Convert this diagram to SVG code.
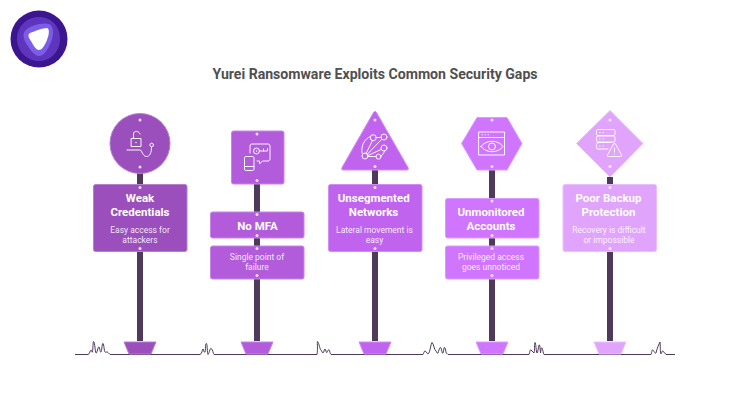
<svg xmlns="http://www.w3.org/2000/svg" width="740" height="420" viewBox="0 0 740 420">
<style>
text{font-family:Roboto,"Liberation Sans",sans-serif;text-anchor:middle}
.title{font-size:14.1px;font-weight:700;fill:#505050}
.h{font-size:11.5px;font-weight:700;fill:#ffffff}
.d{font-size:8.5px;fill:#ffffff;fill-opacity:.88}
.pole{fill:#4f3a5c}
.ground{fill:none;stroke:#4f3a5c;stroke-width:1}
.dot{fill:#ffffff;fill-opacity:.8}
.ic{fill:none;stroke:#ffffff;stroke-opacity:.95;stroke-width:1;stroke-linecap:round;stroke-linejoin:round}
.s{stroke-width:1;stroke-linejoin:round}
.c1{fill:#9b4fbd;stroke:#b67fd0}
.c2{fill:#b25cdc;stroke:#c786e6}
.c3{fill:#c064ef;stroke:#d18df4}
.c4{fill:#d075ff;stroke:#dd99ff}
.c5{fill:#e0a4fd;stroke:#e9c0fe}
</style>
<g id="logo">
<circle cx="39" cy="39" r="28.500" fill="#3c1690"/>
<path d="M39 17C51 17 60 26 60 39C60 51 51 61 39 61C27 61 17 51 17 39C17 26 27 17 39 17Z" fill="#5f35bd"/>
<path d="M25 31C29 26 42 22 49 24C54 26 54 35 51 42C48 49 44 56 39 56C34 56 29 48 26 43C24 39 22 35 25 31Z" fill="#7a5ee8"/>
<path d="M30 33C35 31 43 28 47 28C50 29 49 35 47 40C45 45 42 50 39 50C36 50 33 45 31 41C29 38 27 35 30 33Z" fill="#ffffff"/>
</g>
<text class="title" x="375" y="79">Yurei Ransomware Exploits Common Security Gaps</text>
<g id="connectors">
<path class="ground" d="M75 354.500H88C90 354 90 350 91 350C92 350 92 353 92.500 352C93 348 93 342 93.500 341.500C95 342 95 352 96 353C97 354 98 346 99 347C100 348 100 353 101 352C102 350 102 343 103 343.500C104 344 104 351 105 352C106 353 107 351 108 352.500L110 354.500H200C202 354 202 350 203 349C204 351 204 353 205 352C206 349 205 343 206.500 343.500C207.500 345 207 353 208 354.500C209 354 210 348 211 348.500C213 349 213 354 214 354.500H317C318 350 317 343 317.500 341.500C319 343 320 350 321 350C322 351 322 353 323 353C324 353 324 349 325 349C326 350 326 353 327 352.500C328 351 328 349 329 350C330 351 330 354 331 354.500H423C424 353 424 351 425 351C427 352 427 354 428 354C430 353 431 343 432 342.500C434 344 434 350 436 351C437 352 437 354 438 353C439 350 440 346 441 348C442 351 442 354 443 353C444 349 444 346 445 348C446 351 446 354 447 353.500L448 354.500H529C530 352 530 349 531 350C532 351 533 352 534 353C535 350 534 344 535 342.500C536 343 536 352 537 353C538 352 538 349 539 345C540 344 540 349 540.500 353C541 350 541 347 542 348C543 350 543 353 544 354.500H651C652 352 652 349 653 350C654 351 655 354 656 353C657 348 659 344 660 342C660.500 345 660 353 661 354C662 353 662 350 663 351C664 352 664 353 665 353L666 354.500H675"/>
<path class="pole" d="M137 172h6v13h-6zM137 252h6v89h-6zM254 184h6v28h-6zM254 238h6v8h-6zM254 279h6v62h-6zM372 170h6v15h-6zM372 252h6v89h-6zM489 170h6v28h-6zM489 238h6v8h-6zM489 279h6v62h-6zM607 177h6v8h-6zM607 252h6v89h-6z"/>
</g>
<g id="node1">
<circle class="c1 s" cx="140" cy="143.500" r="30"/>
<path class="c1 s" d="M124 342h32l-5 12h-22z"/>
<rect class="c1 s" x="93.500" y="184.500" width="93.500" height="67" rx="2"/>
<circle class="dot" cx="140" cy="120" r="1.500"/><circle class="dot" cx="140" cy="167" r="1.500"/><circle class="dot" cx="140" cy="187.500" r="1.500"/><circle class="dot" cx="140" cy="248.500" r="1.500"/>
<path class="ic" d="M131.500 138.500h9.500v8h-9.500zM133.500 138.500v-4.500c0-3.500 5.500-3.500 6.500 0M127 150h13c2 0 2.500 6.500 6.500 6.500c3.500 0 5-4 5-9"/><circle class="ic" cx="151.700" cy="145" r="1.800"/><circle cx="136" cy="142.500" r=".7" fill="#fff"/>
<text class="h" x="140" y="202">Weak</text><text class="h" x="140" y="215.500">Credentials</text>
<text class="d" x="140" y="233">Easy access for</text><text class="d" x="140" y="243">attackers</text>
</g>
<g id="node2">
<rect class="c2 s" x="231.500" y="131" width="52.500" height="53" rx="2"/>
<path class="c2 s" d="M241 342h32l-5 12h-22z"/>
<rect class="c2 s" x="210.500" y="212" width="93.500" height="26" rx="2"/>
<rect class="c2 s" x="210.500" y="246" width="93.500" height="33" rx="2"/>
<circle class="dot" cx="257" cy="134" r="1.500"/><circle class="dot" cx="257" cy="180.500" r="1.500"/><circle class="dot" cx="257" cy="214.500" r="1.500"/><circle class="dot" cx="257" cy="235.500" r="1.500"/><circle class="dot" cx="257" cy="248.500" r="1.500"/><circle class="dot" cx="257" cy="275.500" r="1.500"/>
<path class="ic" d="M250 153v-7c0-1.500 1-2 2-2h16c1 0 2 .5 2 2v13c0 1.500-1 2-2 2h-5.500l-3 3v-3h-2.500M246 156.500h6.500c1 0 1.500.5 1.500 1.500v11c0 1-.5 1.500-1.500 1.500h-6.500c-1 0-1.500-.5-1.500-1.500v-11c0-1 .5-1.500 1.500-1.500zM244.500 166.500h9.500M259.500 151h8v-2.500M263.500 151v-2"/><circle class="ic" cx="256.500" cy="151" r="3"/><circle cx="256.500" cy="151" r=".7" fill="#fff"/>
<text class="h" x="257.500" y="229.500">No MFA</text>
<text class="d" x="257" y="260">Single point of</text><text class="d" x="257" y="270">failure</text>
</g>
<g id="node3">
<path class="c3 s" d="M375 111.500Q376 111.500 376.500 112.500L408 167.500Q409 170 407 170H343Q341 170 342 167.500L373.500 112.500Q374 111.500 375 111.500Z"/>
<path class="c3 s" d="M359 342h32l-5 12h-22z"/>
<rect class="c3 s" x="328.500" y="184.500" width="93.500" height="67" rx="2"/>
<circle class="dot" cx="375" cy="120" r="1.500"/><circle class="dot" cx="375" cy="166.500" r="1.500"/><circle class="dot" cx="375" cy="187.500" r="1.500"/><circle class="dot" cx="375" cy="248.500" r="1.500"/>
<path class="ic" d="M370.500 136.500C364 139 361 146 362 153M376.500 137.500h4.500M372.500 140.500L366 153.500M381.500 139.500L367 154.500M381 149.500L368 155.500M368 156.500h8M381 156c2-1.500 3-3 3.500-5"/><circle class="ic" cx="373.300" cy="137.700" r="3"/><circle class="ic" cx="384" cy="137" r="3"/><circle class="ic" cx="384" cy="148" r="3"/><circle class="ic" cx="365" cy="156" r="3"/><circle class="ic" cx="378.500" cy="156.700" r="2.500"/>
<text class="h" x="373.700" y="202">Unsegmented</text><text class="h" x="373.500" y="215.500">Networks</text>
<text class="d" x="374.500" y="233">Lateral movement is</text><text class="d" x="374.500" y="243">easy</text>
</g>
<g id="node4">
<path class="c4 s" d="M477 117.500H507L522 143.500L507 170H477L461.500 143.500Z"/>
<path class="c4 s" d="M476 342h32l-5 12h-22z"/>
<rect class="c4 s" x="445.500" y="198.500" width="93.500" height="39.500" rx="2"/>
<rect class="c4 s" x="445.500" y="246" width="93.500" height="33" rx="2"/>
<circle class="dot" cx="492" cy="120" r="1.500"/><circle class="dot" cx="492" cy="166.500" r="1.500"/><circle class="dot" cx="492" cy="201" r="1.500"/><circle class="dot" cx="492" cy="235.500" r="1.500"/><circle class="dot" cx="492" cy="248.500" r="1.500"/><circle class="dot" cx="492" cy="275.500" r="1.500"/>
<rect class="ic" x="479" y="132" width="25.500" height="23"/><path class="ic" d="M479 137.500h25.500M482 134.800h.5M485 134.800h.5M488 134.800h.5M481 146.500c5-7 17-7 22 0c-5 7-17 7-22 0z"/><circle class="ic" cx="492" cy="146.500" r="3.500"/>
<text class="h" x="491" y="215.500">Unmonitored</text><text class="h" x="491" y="229.500">Accounts</text>
<text class="d" x="491" y="260">Privileged access</text><text class="d" x="491" y="270">goes unnoticed</text>
</g>
<g id="node5">
<path class="c5 s" d="M610 110.500L643 143.500L610 177L576.500 143.500Z"/>
<path class="c5 s" d="M594 342h32l-5 12h-22z"/>
<rect class="c5 s" x="563" y="184.500" width="93.500" height="67" rx="2"/>
<circle class="dot" cx="610" cy="120" r="1.500"/><circle class="dot" cx="610" cy="166.500" r="1.500"/><circle class="dot" cx="610" cy="187.500" r="1.500"/><circle class="dot" cx="610" cy="248.500" r="1.500"/>
<path class="ic" d="M598 129.500h15.500c1 0 1.500.5 1.500 1.500v3c0 1-.5 1.500-1.500 1.500h-15.500c-1 0-1.500-.5-1.500-1.500v-3c0-1 .5-1.500 1.500-1.500zM598 136h15.500c1 0 1.500.5 1.500 1.500v3c0 .5 0 1-.5 1.500h-16.500c-1 0-1.500-.5-1.500-1.500v-3c0-1 .5-1.500 1.500-1.500zM598 142.500h13M598 143c-1 0-1.500.5-1.500 1.500v3c0 1 .5 1.500 1.500 1.500h10M599.500 132.500h.6M603 132.500h.6M599.500 139h.6M603 139h.6M599.500 146h.6M603 146h.6M614.500 143.500c.5 0 1 .5 1 .5l6 11c.5 1 0 1.500-1 1.500h-12c-1 0-1.500-.5-1-1.500l6-11c0 0 .5-.5 1-.5zM614.500 148v4M614.500 154h.1"/>
<text class="h" x="608.500" y="202">Poor Backup</text><text class="h" x="608.500" y="215.500">Protection</text>
<text class="d" x="609" y="233">Recovery is difficult</text><text class="d" x="609" y="243">or impossible</text>
</g>
</svg>
